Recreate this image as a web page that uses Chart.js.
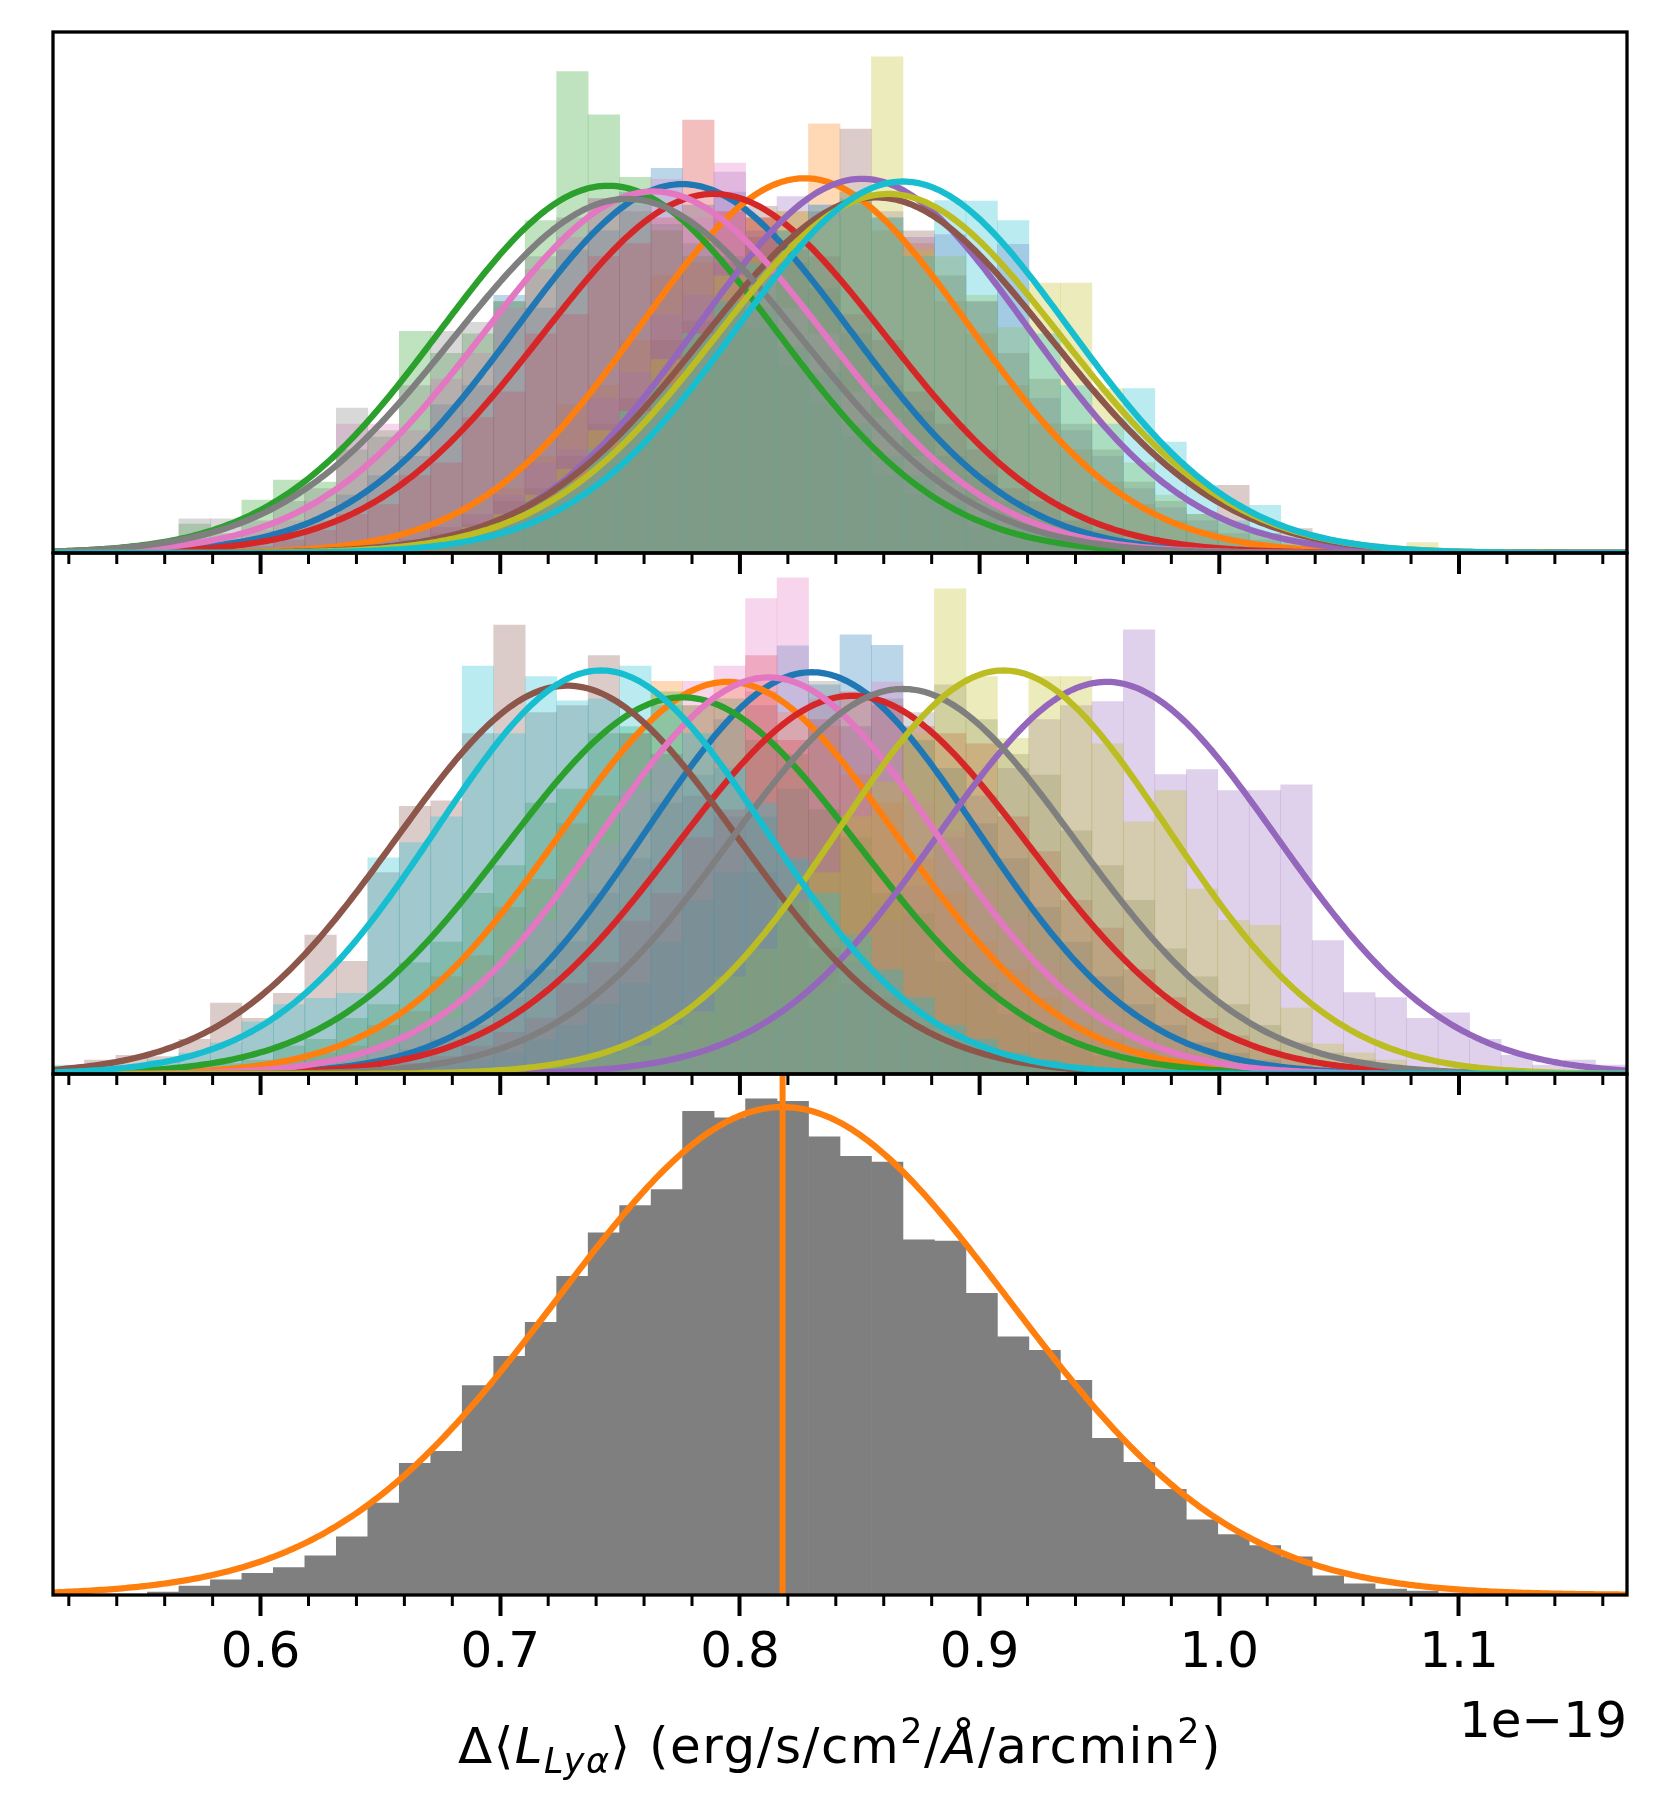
<!DOCTYPE html>
<html>
<head>
<meta charset="utf-8">
<title>Lyα offset distributions</title>
<script src="https://cdn.jsdelivr.net/npm/chart.js@4.4.1/dist/chart.umd.min.js"></script>
<style>
  body { margin: 0; background: #fff; }
  #wrap { position: relative; width: 1659px; height: 1803px; }
  #chart { position: absolute; left: 0; top: 0; }
  .txt { position: absolute; font-family: "DejaVu Sans", sans-serif; font-size: 50px; color: #000; white-space: nowrap; line-height: 60px; }
  #xlabel { left: 53px; width: 1574px; text-align: center; top: 1716px; letter-spacing: 1.5px; }
  #offset { right: 32px; top: 1690px; }
  .m { font-style: italic; }
  .sub { font-size: 35px; vertical-align: -10px; line-height: 0; }
  .sup { font-size: 35px; vertical-align: 20px; line-height: 0; }
</style>
</head>
<body>
<div id="wrap">
  <canvas id="chart" width="1659" height="1803"></canvas>
  <div id="xlabel" class="txt">Δ⟨<span class="m">L</span><span class="sub m">Lyα</span>⟩ (erg/s/cm<span class="sup">2</span>/<span class="m">Å</span>/arcmin<span class="sup">2</span>)</div>
  <div id="offset" class="txt">1e−19</div>
</div>
<script>
"use strict";

// x axis (units of 1e-19), 50 equal bins shared by every histogram
var xMin = 0.5134;
var xMax = 1.1701;
var nBins = 50;
var xMajorTicks = [0.6, 0.7, 0.8, 0.9, 1.0, 1.1];

// tab10 order: blue, orange, green, red, purple, brown, pink, gray, olive, cyan
var seriesColours = ["31,119,180", "255,127,14", "44,160,44", "214,39,40", "148,103,189",
                     "140,86,75", "227,119,194", "127,127,127", "188,189,34", "23,190,207"];

// Top panel histograms (density per bin)
var topBlue = [0,0,0,0,0.05,0.1,0.15,0.3,0.5,0.9,
  1.2,1.5,2.3,2.6,4.0,3.8,4.7,5.0,5.6,5.97,
  5.4,5.6,4.9,4.5,4.1,3.4,2.6,2.2,1.5,1.2,
  0.8,0.5,0.4,0.2,0.15,0.1,0.05,0,0,0,
  0,0,0,0,0,0,0,0,0,0];
var topOrange = [0,0,0,0,0,0,0,0,0,0,
  0.1,0.2,0.4,0.6,1.0,1.5,2.3,2.6,3.3,4.3,
  4.5,5.3,5.2,5.3,6.66,5.4,5.0,4.8,3.9,3.4,
  2.6,2.0,1.6,1.1,0.75,0.5,0.35,0.2,0.12,0.06,
  0.03,0,0,0,0,0,0,0,0,0];
var topGreen = [0,0,0.05,0.1,0.45,0.3,0.82,1.13,1.1,1.6,
  1.9,3.44,3.1,3.4,3.9,5.16,7.47,6.8,5.83,5.0,
  4.6,3.9,3.5,2.9,2.3,1.8,1.2,0.9,0.7,0.4,
  0.25,0.15,0.1,0.05,0.03,0,0,0,0,0,
  0,0,0,0,0,0,0,0,0,0];
var topRed = [0,0,0,0,0,0.05,0.1,0.2,0.35,0.6,
  0.75,1.2,1.4,2.1,2.5,3.4,3.7,4.6,4.8,5.2,
  6.72,5.3,5.2,4.7,4.6,3.7,3.3,2.5,2.0,1.6,
  1.0,0.8,0.5,0.35,0.2,0.12,0.07,0.04,0,0,
  0,0,0,0,0,0,0,0,0,0];
var topPurple = [0,0,0,0,0,0,0,0,0,0,
  0.1,0.2,0.4,0.6,0.9,1.4,1.6,2.4,2.8,3.7,
  4.0,5.91,5.0,5.53,5.4,5.6,5.3,4.9,4.94,3.9,
  4.79,2.4,1.9,1.5,1.0,0.7,0.5,0.3,0.2,0.1,
  0.06,0.03,0,0,0,0,0,0,0,0];
var topBrown = [0,0,0,0,0,0,0,0,0,0,
  0.05,0.15,0.3,0.45,0.8,1.0,1.5,2.0,2.4,3.3,
  3.6,4.5,5.38,5.0,5.3,6.58,5.2,5.0,4.3,3.9,
  3.1,2.7,2.0,1.6,1.1,0.8,0.6,1.05,0.3,0.38,
  0.1,0.05,0,0,0,0,0,0,0,0];
var topPink = [0,0,0,0.05,0.1,0.2,0.35,0.5,0.8,2.0,
  2.0,1.9,2.7,3.1,3.8,4.4,4.9,5.5,5.4,5.8,
  5.2,6.05,4.3,3.8,3.4,2.5,2.1,1.5,1.1,0.8,
  0.5,0.35,0.2,0.13,0.08,0.04,0,0,0,0,
  0,0,0,0,0,0,0,0,0,0];
var topGray = [0,0,0.1,0.1,0.53,0.53,0.5,0.8,1.0,2.25,
  1.8,2.6,3.44,3.58,3.9,4.6,5.2,5.5,5.3,5.1,
  4.8,4.6,3.8,3.2,2.8,2.0,1.5,1.2,0.8,0.55,
  0.4,0.25,0.15,0.09,0.05,0,0,0,0,0,
  0,0,0,0,0,0,0,0,0,0];
var topOlive = [0,0,0,0,0,0,0,0,0,0,
  0,0.1,0.2,0.4,0.6,0.9,1.3,1.9,2.2,3.0,
  3.4,4.3,4.6,5.3,5.2,5.6,7.70,4.7,4.6,4.0,
  3.5,4.19,4.19,2.55,1.4,0.9,0.6,0.45,0.3,0.15,
  0.1,0.05,0,0.16,0,0,0,0,0,0];
var topCyan = [0,0,0,0,0,0,0,0,0,0,
  0,0,0.1,0.3,0.5,0.8,1.1,1.6,2.2,2.6,
  3.4,3.9,4.5,5.0,5.4,5.5,5.2,4.6,5.47,5.46,
  5.16,3.4,2.6,2.0,2.55,1.72,1.05,0.5,0.74,0.25,
  0.14,0.08,0.05,0,0,0,0,0,0,0];

// Middle panel histograms
var midBlue = [0,0,0,0,0,0,0,0,0.05,0.1,
  0.2,0.35,0.5,0.7,1.1,1.5,1.9,2.6,3.1,3.9,
  4.3,5.1,5.3,6.16,5.6,6.32,6.17,4.8,4.4,3.6,
  3.1,2.4,1.9,1.4,1.0,0.7,0.45,0.3,0.2,0.12,
  0.07,0.04,0,0,0,0,0,0,0,0];
var midOrange = [0,0,0,0,0,0.05,0.1,0.2,0.3,0.4,
  0.7,0.9,1.4,1.7,2.4,2.8,3.6,4.0,4.9,5.65,
  5.3,5.6,5.5,5.2,5.0,4.3,3.9,3.1,2.6,1.9,
  1.5,1.1,0.7,0.5,0.35,0.2,0.13,0.08,0.04,0,
  0,0,0,0,0,0,0,0,0,0];
var midGreen = [0,0,0,0,0.05,0.15,0.2,0.4,0.5,0.8,
  1.0,1.6,1.9,2.6,3.0,3.9,4.1,4.9,5.0,5.5,
  5.3,5.4,4.8,4.6,3.8,3.4,2.6,2.3,1.6,1.3,
  0.85,0.6,0.4,0.25,0.15,0.09,0.05,0,0,0,
  0,0,0,0,0,0,0,0,0,0];
var midRed = [0,0,0,0,0,0,0,0,0,0.05,
  0.1,0.15,0.25,0.4,0.6,0.8,1.3,1.6,2.2,2.6,
  3.4,3.8,6.02,4.8,5.1,5.5,5.3,5.0,4.9,4.75,
  3.7,3.2,2.5,2.1,1.5,1.1,0.8,0.55,0.35,0.22,
  0.14,0.09,0.05,0,0,0,0,0,0,0];
var midPurple = [0,0,0,0,0,0,0,0,0,0,
  0,0,0,0,0,0,0.03,0.05,0.1,0.15,
  0.25,0.4,0.6,0.9,1.2,1.6,2.2,2.7,3.4,4.0,
  4.4,5.1,5.3,5.36,6.39,4.31,4.38,4.08,4.08,4.16,
  1.92,1.17,1.1,0.8,0.88,0.5,0.27,0.13,0.2,0.13];
var midBrown = [0.05,0.2,0.27,0.25,0.5,1.02,0.8,1.16,2.0,1.62,
  2.9,3.85,3.93,4.9,6.46,5.2,5.3,6.02,4.9,4.6,
  4.0,3.7,2.9,2.5,1.8,1.3,1.1,0.7,0.45,0.3,
  0.2,0.1,0.07,0.03,0,0,0,0,0,0,
  0,0,0,0,0,0,0,0,0,0];
var midPink = [0,0,0,0,0,0,0,0.05,0.15,0.25,
  0.4,0.6,0.8,1.3,1.6,2.2,2.8,3.3,4.1,4.5,
  5.65,5.87,6.84,7.14,5.4,5.0,5.64,3.9,3.5,2.7,
  2.2,1.6,1.2,0.9,0.6,0.4,0.25,0.15,0.09,0.05,
  0,0,0,0,0,0,0,0,0,0];
var midGray = [0,0,0,0,0,0,0,0,0,0,
  0.04,0.07,0.12,0.2,0.3,0.5,0.7,1.0,1.3,1.9,
  2.5,2.9,3.7,4.1,5.65,5.0,5.4,5.2,5.6,5.1,
  4.6,4.3,3.5,3.0,2.5,1.8,1.4,1.0,0.7,0.45,
  0.3,0.2,0.12,0.07,0,0,0,0,0,0];
var midOlive = [0,0,0,0,0,0,0,0,0,0,
  0,0,0,0.05,0.06,0.1,0.2,0.3,0.4,0.7,
  0.9,1.4,1.8,2.5,2.9,3.7,4.2,4.9,6.98,5.72,
  4.83,5.72,5.72,4.75,3.63,4.08,2.66,2.21,2.14,0.95,
  0.43,0.3,0.2,0.1,0.05,0,0,0,0,0];
var midCyan = [0.13,0.05,0.1,0.2,0.3,0.45,0.75,1.0,1.09,1.16,
  3.11,3.33,3.7,5.87,4.9,5.72,5.37,5.4,5.87,5.3,
  4.9,4.4,3.9,3.1,2.6,2.0,1.5,1.1,0.7,0.5,
  0.3,0.2,0.12,0.07,0,0,0,0,0,0,
  0,0,0,0,0,0,0,0,0,0];

// Bottom panel: combined histogram
var bottomGray = [0,0,0,0.026,0.078,0.131,0.189,0.238,0.340,0.505,
  0.799,1.144,1.249,1.819,2.074,2.370,2.768,3.146,3.384,3.523,
  4.203,4.145,4.311,4.290,3.980,3.811,3.762,3.085,3.076,2.620,
  2.242,2.126,1.865,1.362,1.153,0.918,0.654,0.525,0.430,0.331,
  0.166,0.096,0.052,0.035,0.017,0.009,0.009,0,0,0];

// Gaussian fits (mean, sigma), same colour order as the histograms
var topMeans  = [0.776, 0.827, 0.745, 0.789, 0.851, 0.857, 0.764, 0.753, 0.862, 0.868];
var topSigmas = [0.0697, 0.0686, 0.0700, 0.0716, 0.0687, 0.0723, 0.0711, 0.0726, 0.0716, 0.0692];
var midMeans  = [0.830, 0.795, 0.776, 0.847, 0.953, 0.728, 0.812, 0.868, 0.910, 0.742];
var midSigmas = [0.0690, 0.0707, 0.0736, 0.0733, 0.0707, 0.0714, 0.0699, 0.0720, 0.0687, 0.0687];
var bottomMean = 0.8178;
var bottomSigma = 0.0941;

var topHists = [topBlue, topOrange, topGreen, topRed, topPurple, topBrown, topPink, topGray, topOlive, topCyan];
var midHists = [midBlue, midOrange, midGreen, midRed, midPurple, midBrown, midPink, midGray, midOlive, midCyan];

var binWidth = (xMax - xMin) / nBins;
var fontName = "'DejaVu Sans', sans-serif";

// Builds a histogram as bars on the shared bins
function histDataset(values, colour, axis, order) {
    return {
        type: "bar",
        data: values.map(function(v, k) {
            return { x: xMin + (k + 0.5) * binWidth, y: v > 0 ? v : null };
        }),
        backgroundColor: colour,
        borderWidth: 0,
        grouped: false,
        barPercentage: 1,
        categoryPercentage: 1,
        xAxisID: "x",
        yAxisID: axis,
        order: order
    };
}

// Normal density curve across the whole x range
function curveDataset(mean, sigma, colour, axis, order) {
    var pts = [];
    var n = 500;
    for (var i = 0; i <= n; i++) {
        var x = xMin + (xMax - xMin) * i / n;
        var z = (x - mean) / sigma;
        pts.push({ x: x, y: Math.exp(-0.5 * z * z) / (sigma * Math.sqrt(2 * Math.PI)) });
    }
    return {
        type: "line",
        data: pts,
        borderColor: colour,
        borderWidth: 6.25,
        pointRadius: 0,
        fill: false,
        tension: 0,
        xAxisID: "x",
        yAxisID: axis,
        order: order
    };
}

function panelMax(list) {
    var m = 0;
    list.forEach(function(a) { a.forEach(function(v) { if (v > m) m = v; }); });
    return 1.05 * m;
}

// Minor ticks every 0.02 between the labelled ones
var xMinorTicks = [];
for (var t = 52; t <= 116; t += 2) {
    if (t % 10 != 0) xMinorTicks.push(t / 100);
}

var framePlugin = {
    id: "frames",
    afterDraw: function(chart) {
        var ctx = chart.ctx;
        var area = chart.chartArea;
        var xs = chart.scales.x;
        var panels = [chart.scales.yTop, chart.scales.yMid, chart.scales.yBot];
        ctx.save();
        ctx.strokeStyle = "#000";
        panels.forEach(function(s, i) {
            ctx.lineWidth = 3;
            xMinorTicks.forEach(function(v) {
                var px = xs.getPixelForValue(v);
                ctx.beginPath(); ctx.moveTo(px, s.bottom); ctx.lineTo(px, s.bottom + 11); ctx.stroke();
            });
            if (i < 2) {
                ctx.lineWidth = 4;
                xMajorTicks.forEach(function(v) {
                    var px = xs.getPixelForValue(v);
                    ctx.beginPath(); ctx.moveTo(px, s.bottom); ctx.lineTo(px, s.bottom + 21); ctx.stroke();
                });
            }
        });
        ctx.lineWidth = 3.3;
        panels.forEach(function(s) {
            ctx.strokeRect(area.left, s.top, area.right - area.left, s.bottom - s.top);
        });
        ctx.restore();
    }
};

function init() {
    var datasets = [];
    var seq = 0;
    // histograms first (later ones drawn on top), then the fitted curves
    topHists.forEach(function(h, i) {
        datasets.push(histDataset(h, "rgba(" + seriesColours[i] + ",0.3)", "yTop", 200 - seq++));
    });
    midHists.forEach(function(h, i) {
        datasets.push(histDataset(h, "rgba(" + seriesColours[i] + ",0.3)", "yMid", 200 - seq++));
    });
    datasets.push(histDataset(bottomGray, "rgb(127,127,127)", "yBot", 200 - seq++));
    topMeans.forEach(function(m, i) {
        datasets.push(curveDataset(m, topSigmas[i], "rgb(" + seriesColours[i] + ")", "yTop", 200 - seq++));
    });
    midMeans.forEach(function(m, i) {
        datasets.push(curveDataset(m, midSigmas[i], "rgb(" + seriesColours[i] + ")", "yMid", 200 - seq++));
    });
    datasets.push(curveDataset(bottomMean, bottomSigma, "rgb(255,127,14)", "yBot", 200 - seq++));

    var yBotMax = panelMax([bottomGray]);
    datasets.push({
        type: "line",
        data: [{ x: bottomMean, y: 0 }, { x: bottomMean, y: yBotMax }],
        borderColor: "rgb(255,127,14)",
        borderWidth: 6,
        pointRadius: 0,
        xAxisID: "x",
        yAxisID: "yBot",
        order: 200 - seq++
    });

    var ctx = document.getElementById("chart");
    new Chart(ctx, {
        type: "bar",
        data: { datasets: datasets },
        options: {
            responsive: false,
            animation: false,
            devicePixelRatio: 1,
            layout: { padding: { left: 53, right: 32, top: 32, bottom: 0 } },
            plugins: { legend: { display: false }, tooltip: { enabled: false } },
            scales: {
                x: {
                    type: "linear",
                    position: "bottom",
                    min: xMin,
                    max: xMax,
                    offset: false,
                    afterBuildTicks: function(s) {
                        s.ticks = xMajorTicks.map(function(v) { return { value: v }; });
                    },
                    afterFit: function(s) { s.height = 208; },
                    grid: { drawOnChartArea: false, drawTicks: true, tickLength: 21, tickWidth: 4, tickColor: "#000", offset: false },
                    border: { display: false },
                    ticks: {
                        color: "#000",
                        font: { family: fontName, size: 50 },
                        padding: 8,
                        maxRotation: 0,
                        autoSkip: false,
                        callback: function(v) { return Number(v).toFixed(1); }
                    }
                },
                // stacked panels are laid out from the bottom up in this order
                yBot: { display: false, position: "left", stack: "panels", stackWeight: 1, min: 0, max: yBotMax },
                yMid: { display: false, position: "left", stack: "panels", stackWeight: 1, min: 0, max: panelMax(midHists) },
                yTop: { display: false, position: "left", stack: "panels", stackWeight: 1, min: 0, max: panelMax(topHists) }
            }
        },
        plugins: [framePlugin]
    });
}

window.onload = init;
</script>
</body>
</html>
